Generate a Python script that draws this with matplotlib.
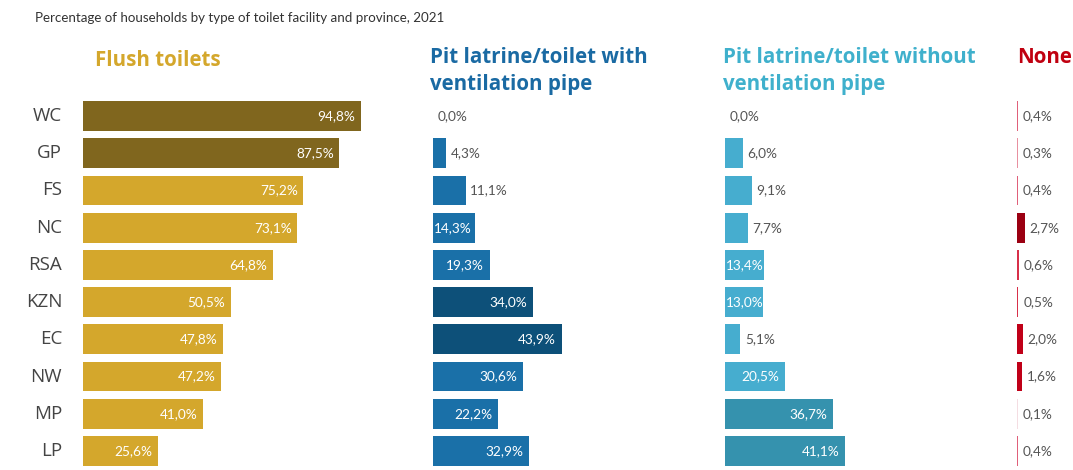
import matplotlib.pyplot as plt

provinces = ['WC', 'GP', 'FS', 'NC', 'RSA', 'KZN', 'EC', 'NW', 'MP', 'LP']
flush = [94.8, 87.5, 75.2, 73.1, 64.8, 50.5, 47.8, 47.2, 41.0, 25.6]
pit_vent = [0.0, 4.3, 11.1, 14.3, 19.3, 34.0, 43.9, 30.6, 22.2, 32.9]
pit_novent = [0.0, 6.0, 9.1, 7.7, 13.4, 13.0, 5.1, 20.5, 36.7, 41.1]
none = [0.4, 0.3, 0.4, 2.7, 0.6, 0.5, 2.0, 1.6, 0.1, 0.4]

title = 'Percentage of households by type of toilet facility and province, 2021'
headers = ['Flush toilets', 'Pit latrine/toilet with\nventilation pipe',
           'Pit latrine/toilet without\nventilation pipe', 'None']

# bar colours (they get darker for higher values in the original)
flush_cols = ['#80661e'] * 2 + ['#d4a72c'] * 8
vent_cols = ['#1a70a8'] * 5 + ['#0d5079'] * 2 + ['#1a70a8'] * 3
novent_cols = ['#46adcf'] * 8 + ['#3592ae'] * 2
none_cols = ['#e0607a', '#e890a0', '#e0607a', '#9b0012', '#d8304a',
             '#d8304a', '#c00018', '#c00018', '#f4dde2', '#e0607a']
head_cols = ['#d4a72c', '#1a6aa3', '#3fb0cc', '#c00010']

W, H = 1073, 470
PX = 2.93  # pixels per percentage point
fig = plt.figure(figsize=(W / 100, H / 100), dpi=100)
plt.rcParams['font.family'] = ['Open Sans', 'DejaVu Sans']
num_font = ['Lato', 'DejaVu Sans']

fig.text(35 / W, 1 - 18 / H, title, fontsize=9.6, color='#333333', va='center',
         family=['Lato', 'DejaVu Sans'])

row0, step = 116, 37.22
top = row0 - step / 2
bottom = row0 + 9.5 * step

panels = [
    (83, 293, flush, flush_cols, 0),     # inside threshold
    (433, 280, pit_vent, vent_cols, 14),
    (725, 280, pit_novent, novent_cols, 13),
    (1017, 56, none, none_cols, 999),
]
head_x = [95, 430, 723, 1017]
head_y = [50, 47, 47, 47]

for k, (left, width, vals, cols, thr) in enumerate(panels):
    ax = fig.add_axes([left / W, 1 - bottom / H, width / W, (bottom - top) / H])
    ax.set_xlim(0, width / PX)
    ax.set_ylim(len(provinces) - 0.5, -0.5)
    ax.barh(range(len(vals)), vals, height=0.8, color=cols)
    if k == 3:
        # thin values still show as a hairline in the original
        ax.barh(range(len(vals)), [max(v, 0.35) for v in vals], height=0.8,
                color=cols)
    ax.axis('off')
    ax.patch.set_alpha(0)
    for i, v in enumerate(vals):
        lab = f'{v:.1f}%'.replace('.', ',')
        if v >= thr and v < 15:
            # label wider than the bar: starts at the bar's base
            ax.annotate(lab, (0, i), xytext=(0.5, 0), textcoords='offset points',
                        ha='left', va='center', color='white', fontsize=9.8,
                        family=num_font)
        elif v >= thr:
            ax.annotate(lab, (v, i), xytext=(-4, 0), textcoords='offset points',
                        ha='right', va='center', color='white', fontsize=9.8,
                        family=num_font)
        else:
            ax.annotate(lab, (v, i), xytext=(3.5, 0), textcoords='offset points',
                        ha='left', va='center', color='#555555', fontsize=9.8,
                        family=num_font)
    if k == 0:
        for i, p in enumerate(provinces):
            ax.annotate(p, (0, i), xytext=(-15, 0), textcoords='offset points',
                        ha='right', va='center', color='#444444', fontsize=13.5)
    fig.text(head_x[k] / W, 1 - head_y[k] / H, headers[k], fontsize=14.8,
             fontweight='bold', color=head_cols[k], va='top', linespacing=1.35)

fig.savefig('out.png', dpi=100)
